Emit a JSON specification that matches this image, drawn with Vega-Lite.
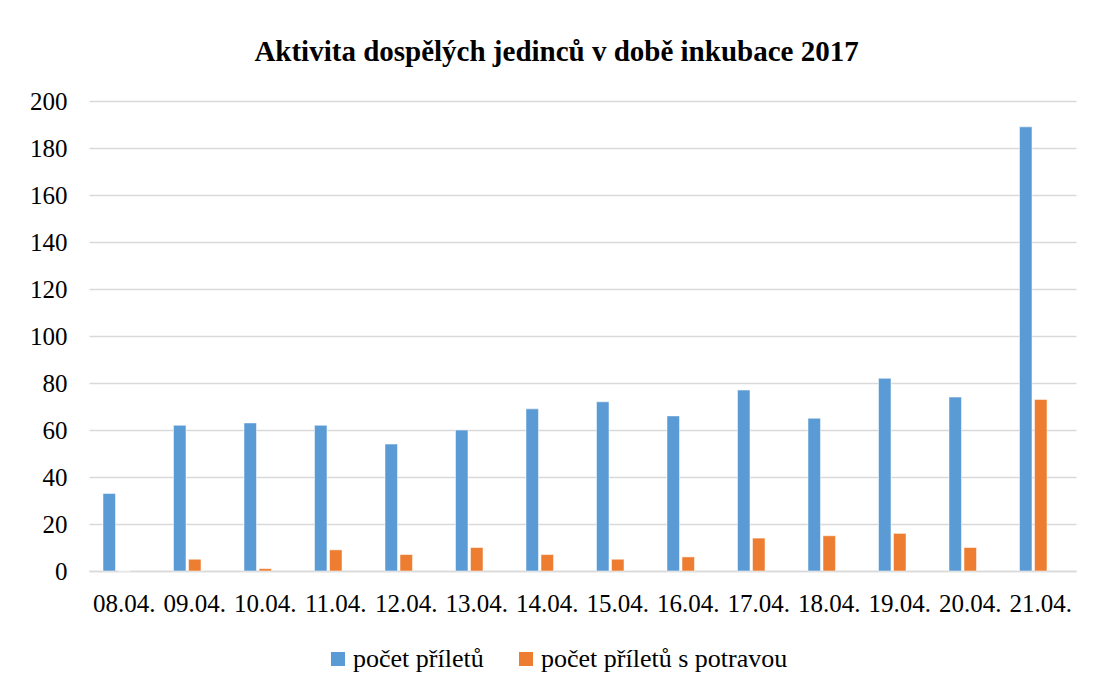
{
  "$schema": "https://vega.github.io/schema/vega-lite/v6.json",
  "width": 987,
  "height": 470,
  "autosize": {"type": "none"},
  "padding": {"left": 89, "top": 101, "right": 19, "bottom": 116},
  "background": "white",
  "title": {
    "text": "Aktivita dospělých jedinců v době inkubace 2017",
    "font": "Liberation Serif",
    "fontSize": 29,
    "fontWeight": "bold",
    "color": "#000000",
    "anchor": "middle",
    "dx": -26,
    "offset": 22
  },
  "data": {
    "values": [
      {"datum": "08.04.", "rada": "počet příletů", "pocet": 33},
      {"datum": "09.04.", "rada": "počet příletů", "pocet": 62},
      {"datum": "10.04.", "rada": "počet příletů", "pocet": 63},
      {"datum": "11.04.", "rada": "počet příletů", "pocet": 62},
      {"datum": "12.04.", "rada": "počet příletů", "pocet": 54},
      {"datum": "13.04.", "rada": "počet příletů", "pocet": 60},
      {"datum": "14.04.", "rada": "počet příletů", "pocet": 69},
      {"datum": "15.04.", "rada": "počet příletů", "pocet": 72},
      {"datum": "16.04.", "rada": "počet příletů", "pocet": 66},
      {"datum": "17.04.", "rada": "počet příletů", "pocet": 77},
      {"datum": "18.04.", "rada": "počet příletů", "pocet": 65},
      {"datum": "19.04.", "rada": "počet příletů", "pocet": 82},
      {"datum": "20.04.", "rada": "počet příletů", "pocet": 74},
      {"datum": "21.04.", "rada": "počet příletů", "pocet": 189},
      {"datum": "08.04.", "rada": "počet příletů s potravou", "pocet": 0},
      {"datum": "09.04.", "rada": "počet příletů s potravou", "pocet": 5},
      {"datum": "10.04.", "rada": "počet příletů s potravou", "pocet": 1},
      {"datum": "11.04.", "rada": "počet příletů s potravou", "pocet": 9},
      {"datum": "12.04.", "rada": "počet příletů s potravou", "pocet": 7},
      {"datum": "13.04.", "rada": "počet příletů s potravou", "pocet": 10},
      {"datum": "14.04.", "rada": "počet příletů s potravou", "pocet": 7},
      {"datum": "15.04.", "rada": "počet příletů s potravou", "pocet": 5},
      {"datum": "16.04.", "rada": "počet příletů s potravou", "pocet": 6},
      {"datum": "17.04.", "rada": "počet příletů s potravou", "pocet": 14},
      {"datum": "18.04.", "rada": "počet příletů s potravou", "pocet": 15},
      {"datum": "19.04.", "rada": "počet příletů s potravou", "pocet": 16},
      {"datum": "20.04.", "rada": "počet příletů s potravou", "pocet": 10},
      {"datum": "21.04.", "rada": "počet příletů s potravou", "pocet": 73}
    ]
  },
  "mark": {"type": "bar", "stroke": "#ffffff", "strokeOpacity": 0.5, "strokeWidth": 1},
  "encoding": {
    "x": {
      "field": "datum",
      "type": "nominal",
      "sort": null,
      "scale": {"paddingInner": 0, "paddingOuter": 0},
      "axis": {
        "title": null,
        "labelAngle": 0,
        "labelPadding": 20,
        "labelLimit": 0,
        "ticks": false,
        "domain": true,
        "domainColor": "#d9d9d9",
        "domainWidth": 1.5,
        "grid": false
      }
    },
    "xOffset": {
      "field": "rada",
      "type": "nominal",
      "scale": {
        "domain": ["počet příletů", "počet příletů s potravou", "x"],
        "paddingInner": 0.167,
        "paddingOuter": 0.933
      }
    },
    "y": {
      "field": "pocet",
      "type": "quantitative",
      "scale": {"domain": [0, 200]},
      "axis": {
        "title": null,
        "values": [0, 20, 40, 60, 80, 100, 120, 140, 160, 180, 200],
        "labelPadding": 22,
        "ticks": false,
        "domain": false,
        "grid": true,
        "gridColor": "#d9d9d9",
        "gridWidth": 1.5
      }
    },
    "color": {
      "field": "rada",
      "type": "nominal",
      "scale": {
        "domain": ["počet příletů", "počet příletů s potravou"],
        "range": ["#5B9BD5", "#ED7D31"]
      },
      "legend": {
        "title": null,
        "orient": "none",
        "direction": "horizontal",
        "legendX": 236,
        "legendY": 545,
        "symbolType": "square",
        "symbolSize": 196,
        "symbolStrokeWidth": 0,
        "symbolOpacity": 1,
        "labelOffset": 2,
        "labelLimit": 0,
        "columnPadding": 29
      }
    }
  },
  "config": {
    "font": "Liberation Serif",
    "view": {"stroke": null},
    "axis": {"labelFont": "Liberation Serif", "labelFontSize": 25, "labelColor": "#000000"},
    "legend": {"labelFont": "Liberation Serif", "labelFontSize": 26, "labelColor": "#000000"}
  }
}
